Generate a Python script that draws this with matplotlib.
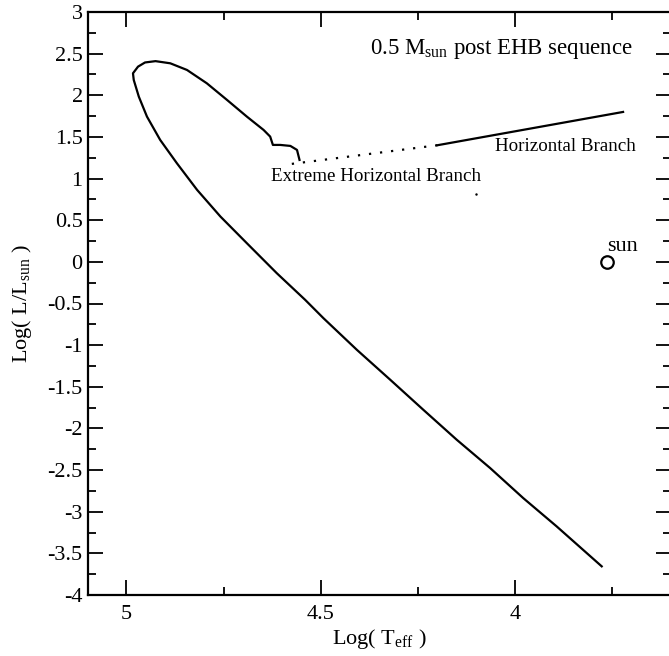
import numpy as np
import matplotlib.pyplot as plt
from matplotlib.ticker import MultipleLocator

plt.rcParams['font.family'] = ['Liberation Serif', 'DejaVu Serif']
plt.rcParams['mathtext.fontset'] = 'custom'
plt.rcParams['mathtext.rm'] = 'Liberation Serif'

# horizontal branch (solid part)
hb_teff = [3.722, 4.20]
hb_lum = [1.80, 1.40]

# EHB (dotted part)
ehb_teff = [4.20, 4.585]
ehb_lum = [1.40, 1.17]

# post-EHB evolution: hook, loop, then cooling track
track_teff = [4.5545, 4.561, 4.578, 4.604, 4.623, 4.630, 4.647, 4.690, 4.741,
              4.793, 4.844, 4.887, 4.925, 4.952, 4.970, 4.983, 4.981, 4.968,
              4.947, 4.913, 4.870, 4.818, 4.758, 4.690, 4.613, 4.540, 4.493,
              4.407, 4.321, 4.236, 4.150, 4.064, 3.979, 3.893, 3.777]
track_lum = [1.224, 1.344, 1.392, 1.404, 1.404, 1.504, 1.584, 1.744, 1.944,
             2.144, 2.304, 2.384, 2.410, 2.394, 2.344, 2.264, 2.184, 1.984,
             1.744, 1.464, 1.184, 0.864, 0.544, 0.224, -0.136, -0.456, -0.676,
             -1.056, -1.416, -1.776, -2.136, -2.476, -2.836, -3.176, -3.656]

sun_teff = 3.764
sun_lum = 0.0

fig = plt.figure(figsize=(6.69, 6.56), dpi=100)
ax = fig.add_axes([87.5/669, 61/656, 583/669, 583/656])

ax.plot(hb_teff, hb_lum, color='black', lw=1.6)
ax.plot(ehb_teff, ehb_lum, color='black', lw=1.6, ls=(0, (1, 4)))
ax.plot(track_teff, track_lum, color='black', lw=1.6)
ax.plot([4.10], [0.816], marker='.', ms=1.5, color='black', ls='none')
ax.plot([sun_teff], [sun_lum], marker='o', ms=9, mfc='none', mec='black', mew=1.6)

ax.text(sun_teff, 0.13, 'sun', fontsize=16, ha='left', va='baseline')
ax.text(4.359, 1.02, 'Extreme Horizontal Branch', fontsize=13.7, ha='center', va='center')
ax.text(3.871, 1.384, 'Horizontal Branch', fontsize=13.7, ha='center', va='center')
ax.text(4.036, 2.56, r'0.5 M$_{\mathrm{sun}}$ post EHB sequence', fontsize=16.4,
        ha='center', va='center')

ax.set_xlim(5.1, 3.6)
ax.set_ylim(-4, 3)
ax.xaxis.set_major_locator(MultipleLocator(0.5))
ax.xaxis.set_minor_locator(MultipleLocator(0.25))
ax.yaxis.set_major_locator(MultipleLocator(0.5))
ax.yaxis.set_minor_locator(MultipleLocator(0.25))
ax.tick_params(which='both', direction='in', top=True, right=True, width=1.3,
               labelsize=16)
ax.tick_params(which='major', length=11)
ax.tick_params(which='minor', length=6)
ax.tick_params(axis='x', pad=7.5)
ax.xaxis.set_major_formatter(plt.FuncFormatter(lambda v, p: f'{v:g}'))
ax.yaxis.set_major_formatter(plt.FuncFormatter(lambda v, p: f'{v:g}'))
for s in ax.spines.values():
    s.set_linewidth(1.6)

ax.set_xlabel(r'Log( T$_{\mathrm{eff}}$ )', fontsize=16, labelpad=2)
ax.set_ylabel(r'Log( L/L$_{\mathrm{sun}}$ )', fontsize=16, labelpad=10)

fig.savefig('out.png', dpi=100)
